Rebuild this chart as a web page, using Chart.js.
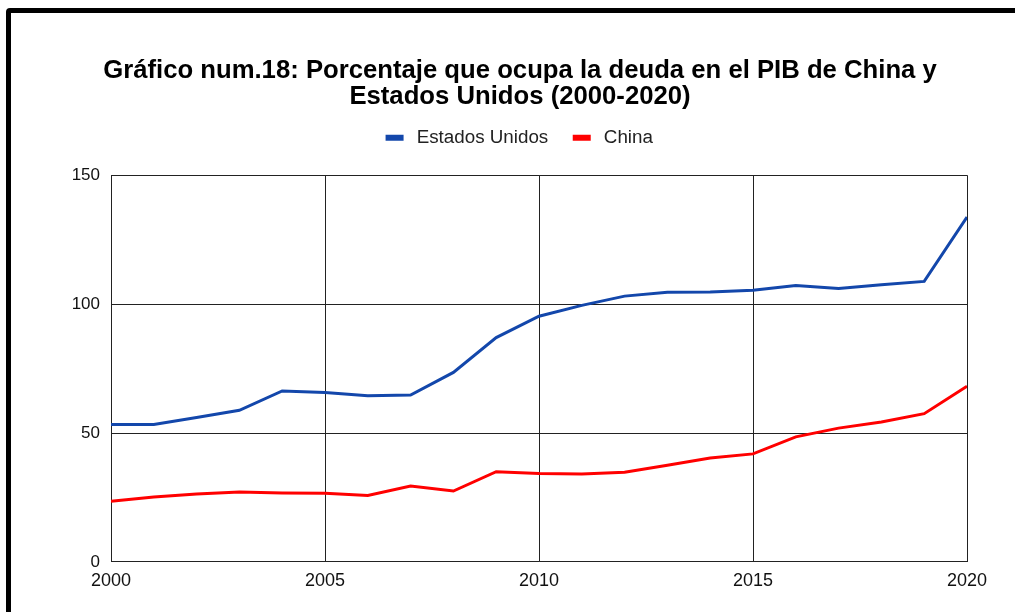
<!DOCTYPE html>
<html>
<head>
<meta charset="utf-8">
<script src="https://cdn.jsdelivr.net/npm/chart.js@4"></script>
<style>
  html, body { margin: 0; padding: 0; background: #fff; overflow: hidden; }
  .frame {
    position: absolute; left: 6px; top: 8px;
    width: 1100px; height: 700px;
    border: 5px solid #000; border-radius: 4px;
  }
  .chart-box { position: absolute; left: 0; top: 0; width: 1015px; height: 612px; }
</style>
</head>
<body>
<div class="frame"></div>
<div class="chart-box"><canvas id="deuda"></canvas></div>
<script>
// Años y porcentaje de deuda sobre el PIB
const years = [2000, 2001, 2002, 2003, 2004, 2005, 2006, 2007, 2008, 2009, 2010,
               2011, 2012, 2013, 2014, 2015, 2016, 2017, 2018, 2019, 2020];
const estadosUnidos = [53.3, 53.3, 56.0, 58.8, 66.3, 65.7, 64.5, 64.7, 73.5, 87.0, 95.3,
                       99.5, 103.1, 104.6, 104.7, 105.4, 107.2, 106.1, 107.5, 108.8, 133.8];
const china = [23.5, 25.2, 26.3, 27.1, 26.7, 26.6, 25.8, 29.4, 27.5, 35.0, 34.3,
               34.1, 34.8, 37.5, 40.3, 41.9, 48.5, 51.9, 54.3, 57.5, 68.1];
const titleLines = ['Gráfico num.18: Porcentaje que ocupa la deuda en el PIB de China y',
                    'Estados Unidos (2000-2020)'];

const toPoints = (vals) => vals.map((v, i) => ({ x: years[i], y: v }));

const FONT = "'Liberation Sans', Arial, sans-serif";
const GRID = '#222';

new Chart(document.getElementById('deuda'), {
  type: 'line',
  data: {
    datasets: [
      {
        label: 'Estados Unidos',
        data: toPoints(estadosUnidos),
        borderColor: '#1347ab',
        backgroundColor: '#1347ab',
        borderWidth: 3,
        pointRadius: 0,
        tension: 0
      },
      {
        label: 'China',
        data: toPoints(china),
        borderColor: '#ff0000',
        backgroundColor: '#ff0000',
        borderWidth: 3,
        pointRadius: 0,
        tension: 0
      }
    ]
  },
  options: {
    responsive: true,
    maintainAspectRatio: false,
    animation: false,
    layout: { padding: { left: 73, right: 48, top: 0, bottom: 11.5 } },
    plugins: {
      title: {
        display: true,
        text: titleLines,
        color: '#000',
        font: { family: FONT, size: 25.7, weight: 'bold', lineHeight: 1.01 },
        padding: { top: 57.5, bottom: -7 }
      },
      // spacer between legend and plot
      subtitle: {
        display: true,
        text: ' ',
        weight: 500,
        font: { size: 1, lineHeight: 1 },
        padding: { top: 0, bottom: 17 }
      },
      legend: {
        position: 'top',
        labels: {
          color: '#222',
          font: { family: FONT, size: 18.8 },
          boxWidth: 15,
          boxHeight: 3,
          padding: 26,
          generateLabels: (chart) => {
            const items = Chart.defaults.plugins.legend.labels.generateLabels(chart);
            items.forEach((it) => { it.text = ' ' + it.text; });
            return items;
          }
        }
      },
      tooltip: { enabled: false }
    },
    scales: {
      x: {
        type: 'linear',
        min: 2000,
        max: 2020,
        ticks: {
          stepSize: 5,
          color: '#111',
          font: { family: FONT, size: 18 },
          padding: 8.5,
          maxRotation: 0,
          callback: (v) => String(v)
        },
        grid: { color: GRID, lineWidth: 1, drawTicks: false },
        border: { color: GRID, width: 1 }
      },
      y: {
        min: 0,
        max: 150,
        ticks: {
          stepSize: 50,
          color: '#111',
          font: { family: FONT, size: 17 },
          padding: 11
        },
        grid: { color: GRID, lineWidth: 1, drawTicks: false },
        border: { color: GRID, width: 1 },
        afterFit: (scale) => { scale.width = 38; }
      }
    }
  }
});
</script>
</body>
</html>
